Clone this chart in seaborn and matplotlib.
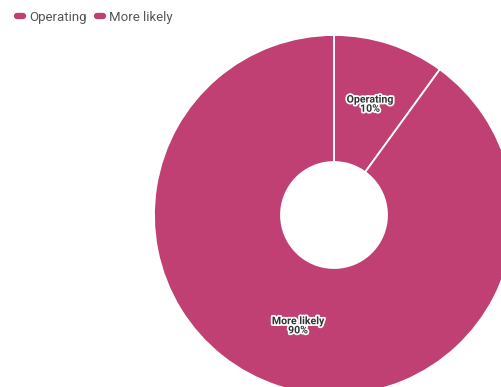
import matplotlib
matplotlib.use("Agg")
import matplotlib.pyplot as plt
import matplotlib.patheffects as pe
from matplotlib.lines import Line2D
import numpy as np
import seaborn as sns

# Share of each category
categories = ["Operating", "More likely"]
shares = [10, 90]
colors = ["#C04073", "#C04073"]

sns.set_theme(style="white")
plt.rcParams["font.family"] = ["Roboto", "DejaVu Sans"]

W, H = 501, 387
fig = plt.figure(figsize=(W / 100, H / 100), dpi=100)
ax = fig.add_axes([0, 0, 1, 1])
ax.set_axis_off()

# Donut geometry in pixels: centre and radii
cx, cy = 334, 215
r_out, r_in = 180, 53

wedges, _ = ax.pie(
    shares,
    colors=colors,
    startangle=90,
    counterclock=False,
    radius=1.0,
    wedgeprops=dict(width=(r_out - r_in) / r_out, edgecolor="white", linewidth=1.3),
)

# Labels sit in the middle of the ring
r_lab = (r_out + r_in) / 2 / r_out
start = 90.0
total = sum(shares)
for name, val in zip(categories, shares):
    span = 360.0 * val / total
    mid = np.deg2rad(start - span / 2)
    start -= span
    ax.text(
        r_lab * np.cos(mid), r_lab * np.sin(mid),
        f"{name}\n{val}%",
        ha="center", va="center", fontsize=7.6, fontweight="bold",
        color="#333333", linespacing=0.9,
        path_effects=[pe.withStroke(linewidth=2.5, foreground="white")],
    )

ax.set_xlim(-cx / r_out, (W - cx) / r_out)
ax.set_ylim(-(H - cy) / r_out, cy / r_out)
ax.set_aspect("auto")

handles = [
    Line2D([0], [0], color=c, lw=4.6, solid_capstyle="round")
    for c in colors
]
fig.legend(
    handles, categories,
    loc="upper left", bbox_to_anchor=(0.0, 1.0 + 6 / H),
    ncol=2, frameon=False, fontsize=9.5,
    handlelength=0.5, handletextpad=0.42, columnspacing=0.76,
    borderaxespad=0.88, borderpad=0.4, labelcolor="#555555",
)

fig.savefig("out.png", dpi=100)
